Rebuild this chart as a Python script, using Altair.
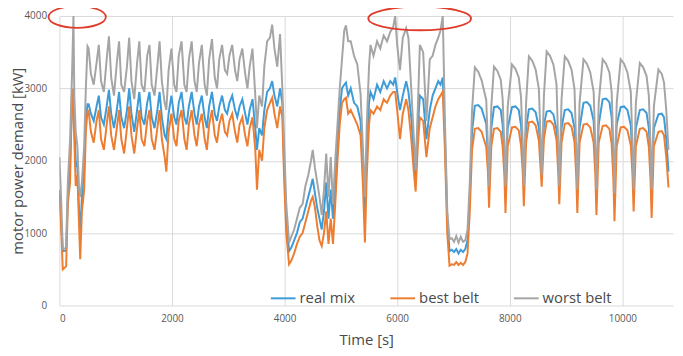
import altair as alt
import pandas as pd

# ---- data (time in s, power in kW) ----
t_a = [0, 30, 60, 120, 150, 190, 225, 250, 265, 290, 320, 350, 370, 400, 440, 470, 500]
real_a = [1600, 1200, 750, 760, 1500, 2000, 2800, 3000, 2500, 2000, 1900, 1300, 1000, 1500, 1900, 2600, 2780]
best_a = [1550, 1100, 500, 540, 1400, 1700, 2990, 2700, 2300, 1650, 1800, 1100, 640, 1300, 1600, 2400, 2690]
worst_a = [2050, 1500, 780, 800, 1700, 2300, 3200, 4000, 2900, 2400, 2200, 1600, 1500, 1700, 2200, 3000, 3580]

t_b = [520, 560, 610, 660, 700, 740, 790, 840, 880, 920, 970, 1020, 1060, 1100, 1150, 1200, 1240, 1280,
       1330, 1380, 1420, 1460, 1510, 1560, 1600, 1640, 1690, 1740, 1780, 1820, 1870, 1900, 1940, 1990,
       2040, 2080, 2120, 2170, 2220, 2260, 2300, 2350, 2400, 2440, 2480, 2530, 2580, 2620, 2660, 2710,
       2760, 2800, 2840, 2890, 2940, 2980, 3020, 3070, 3120, 3160, 3200, 3250, 3300, 3340, 3380, 3430,
       3480, 3510, 3550, 3600, 3640, 3690, 3740, 3780, 3820, 3870, 3920]
worst_b = [3550, 3200, 3050, 3350, 3600, 3100, 2950, 3400, 3720, 3150, 2900, 3350, 3650, 3050, 2950, 3300,
           3700, 3100, 2850, 3350, 3650, 3050, 2950, 3450, 3600, 3050, 2900, 3300, 3650, 3100, 2800, 2700,
           3250, 3550, 3050, 2950, 3450, 3650, 3050, 2950, 3400, 3650, 3100, 2950, 3350, 3600, 3050, 2900,
           3400, 3680, 3150, 3000, 3400, 3600, 3250, 3200, 3450, 3600, 3250, 3100, 3400, 3550, 3200, 3000,
           3300, 3550, 2900, 2450, 2900, 2750, 3300, 3650, 3700, 3880, 3550, 3300, 3750]
real_b = [2780, 2650, 2550, 2750, 2900, 2600, 2500, 2750, 2980, 2650, 2450, 2700, 2950, 2600, 2450, 2700,
          3000, 2650, 2400, 2700, 2950, 2600, 2500, 2800, 2950, 2600, 2450, 2700, 2950, 2600, 2350, 2300,
          2650, 2900, 2600, 2500, 2800, 2950, 2600, 2500, 2750, 2950, 2650, 2500, 2750, 2900, 2600, 2450,
          2750, 2950, 2650, 2550, 2750, 2900, 2700, 2650, 2800, 2900, 2700, 2600, 2750, 2850, 2650, 2500,
          2700, 2850, 2450, 2150, 2450, 2350, 2700, 2950, 3000, 3100, 2900, 2750, 3000]
best_b = [2690, 2400, 2250, 2550, 2700, 2300, 2150, 2500, 2750, 2350, 2150, 2450, 2700, 2300, 2100, 2450,
          2750, 2350, 2100, 2450, 2700, 2300, 2200, 2550, 2700, 2300, 2150, 2450, 2700, 2300, 2050, 1850,
          2400, 2650, 2300, 2200, 2550, 2700, 2300, 2150, 2500, 2700, 2350, 2200, 2500, 2650, 2300, 2150,
          2500, 2700, 2350, 2250, 2500, 2650, 2400, 2350, 2550, 2650, 2400, 2250, 2500, 2600, 2350, 2200,
          2450, 2600, 2150, 1600, 2150, 2000, 2450, 2700, 2800, 2870, 2650, 2450, 2750]

t_c = [3960, 3990, 4030, 4080, 4120, 4170, 4220, 4270, 4320, 4370, 4420, 4470, 4500, 4540, 4580, 4620,
       4660, 4700, 4740, 4780, 4820, 4860, 4900, 4940, 4980, 5020, 5060]
worst_c = [3000, 2300, 1400, 870, 950, 1050, 1200, 1350, 1400, 1650, 1800, 2000, 2150, 1900, 1700, 1500,
           1250, 1600, 2100, 1500, 2050, 1400, 2000, 2500, 3000, 3400, 3800]
real_c = [2800, 2000, 1200, 750, 800, 900, 1000, 1150, 1200, 1350, 1500, 1650, 1750, 1550, 1350, 1200,
          1050, 1300, 1700, 1200, 1600, 1200, 1700, 2200, 2700, 3000, 3050]
best_c = [2600, 1800, 1000, 570, 620, 720, 850, 950, 1000, 1150, 1300, 1450, 1500, 1350, 1100, 900,
          820, 1000, 1300, 850, 1200, 850, 1400, 2000, 2500, 2800, 2850]

t_d = [5090, 5130, 5175, 5234, 5292, 5350, 5390, 5427, 5460, 5500, 5526, 5580, 5643, 5700, 5760, 5820,
       5877, 5930, 5965, 6000, 6050, 6100, 6160, 6200, 6250, 6290, 6328, 6370, 6403, 6462, 6520, 6579,
       6630, 6680, 6730, 6770, 6810, 6850, 6890, 6930]
worst_d = [3870, 3650, 3650, 3450, 3330, 2920, 2200, 1500, 2500, 3300, 3600, 3450, 3650, 3550, 3730, 3650,
           3780, 3850, 4000, 3600, 3250, 3700, 3830, 3700, 3000, 2400, 1870, 2800, 3600, 3500, 2550, 3400,
           3450, 3600, 3700, 3800, 4000, 2500, 1300, 915]
real_d = [3080, 2900, 3000, 2800, 2750, 2550, 2000, 1300, 2100, 2800, 2950, 2850, 3050, 2950, 3100, 3000,
          3100, 3050, 3150, 2950, 2700, 2900, 3100, 2950, 2600, 2150, 1750, 2500, 2900, 2850, 2300, 2700,
          2900, 3000, 3100, 3050, 3150, 2300, 1200, 750]
best_d = [2870, 2650, 2700, 2600, 2500, 2350, 1700, 870, 1800, 2500, 2700, 2650, 2750, 2700, 2850, 2800,
          2900, 2950, 2950, 2700, 2300, 2650, 2850, 2700, 2300, 1900, 1574, 2250, 2600, 2550, 2050, 2450,
          2600, 2750, 2850, 2900, 2960, 2100, 1000, 550]

t_e = [6970, 7010, 7050, 7090, 7130, 7170, 7210, 7250, 7290, 7330]
worst_e = [930, 880, 960, 870, 950, 880, 900, 1050, 1700, 2700]
real_e = [770, 740, 780, 720, 770, 740, 780, 900, 1500, 2400]
best_e = [570, 560, 600, 560, 590, 560, 600, 720, 1300, 2150]

t_f = [7380, 7440, 7500, 7582, 7612, 7632, 7672,
       7720, 7780, 7840, 7874, 7904, 7924, 7964,
       8040, 8100, 8160, 8200, 8230, 8250, 8290,
       8340, 8400, 8460, 8517, 8547, 8567, 8607,
       8655, 8715, 8775, 8830, 8860, 8880, 8920,
       8977, 9037, 9097, 9150, 9180, 9200, 9240,
       9310, 9370, 9430, 9490, 9520, 9540, 9580,
       9650, 9710, 9770, 9810, 9840, 9860, 9900,
       9970, 10030, 10090, 10150, 10180, 10200, 10240,
       10310, 10370, 10430, 10470, 10500, 10520, 10560,
       10640, 10700, 10740, 10780, 10820]
worst_f = [3290, 3230, 3110, 2840, 2200, 1650, 2750,
           3300, 3240, 3120, 2850, 2200, 1650, 2750,
           3330, 3270, 3150, 2880, 2250, 1650, 2800,
           3440, 3380, 3260, 2990, 2300, 1800, 2900,
           3510, 3450, 3330, 3060, 2250, 1650, 2850,
           3440, 3380, 3260, 2990, 2200, 1600, 2800,
           3400, 3340, 3220, 2950, 2200, 1600, 2800,
           3400, 3340, 3220, 2950, 2200, 1550, 2800,
           3400, 3340, 3220, 2950, 2200, 1600, 2800,
           3350, 3290, 3170, 2900, 2200, 1600, 2750,
           3260, 3200, 3080, 2700, 2150]
real_f = [2760, 2770, 2720, 2510, 2050, 1780, 2450,
          2740, 2750, 2700, 2490, 2050, 1780, 2450,
          2740, 2750, 2700, 2490, 2050, 1800, 2450,
          2710, 2720, 2670, 2460, 2100, 1900, 2500,
          2680, 2690, 2640, 2430, 2050, 1800, 2450,
          2700, 2710, 2660, 2450, 2000, 1750, 2450,
          2800, 2810, 2760, 2550, 2050, 1750, 2500,
          2850, 2860, 2810, 2600, 2050, 1700, 2500,
          2740, 2750, 2700, 2490, 2000, 1750, 2450,
          2700, 2710, 2660, 2450, 2000, 1700, 2450,
          2640, 2650, 2600, 2300, 1850]
best_f = [2440, 2450, 2400, 2190, 1850, 1350, 2200,
          2440, 2450, 2400, 2190, 1800, 1280, 2200,
          2460, 2470, 2420, 2210, 1850, 1370, 2250,
          2530, 2540, 2490, 2280, 1900, 1640, 2300,
          2540, 2550, 2500, 2290, 1850, 1400, 2250,
          2510, 2520, 2470, 2260, 1800, 1280, 2250,
          2500, 2510, 2460, 2250, 1800, 1250, 2250,
          2480, 2490, 2440, 2230, 1750, 1165, 2200,
          2460, 2470, 2420, 2210, 1800, 1300, 2200,
          2440, 2450, 2400, 2190, 1750, 1210, 2200,
          2400, 2410, 2350, 2050, 1630]

series_names = ["real mix", "best belt", "worst belt"]
series_colors = ["#3d9bd8", "#ed7d31", "#a5a5a5"]

x_ticks = [0, 2000, 4000, 6000, 8000, 10000]
y_ticks = [0, 500, 1000, 1500, 2000, 2500, 3000, 3500, 4000]

# red ellipse annotations (centre in data units)
ell1_t, ell1_v = [316], [3986]
ell2_t, ell2_v = [6400], [3966]

time_all = t_a + t_b + t_c + t_d + t_e + t_f
real_all = real_a + real_b + real_c + real_d + real_e + real_f
best_all = best_a + best_b + best_c + best_d + best_e + best_f
worst_all = worst_a + worst_b + worst_c + worst_d + worst_e + worst_f

df = pd.DataFrame({
    "t": time_all * 3,
    "v": real_all + best_all + worst_all,
    "series": ["real mix"] * len(time_all) + ["best belt"] * len(time_all) + ["worst belt"] * len(time_all),
})

FONT = "Open Sans"
TXT = "#4a4a4a"

xenc = alt.X("t:Q", scale=alt.Scale(domain=[0, 10900], nice=False),
             axis=alt.Axis(values=x_ticks, title="Time [s]", format="d", grid=True,
                           labelPadding=8, titlePadding=9))
yenc = alt.Y("v:Q", scale=alt.Scale(domain=[0, 4000], nice=False),
             axis=alt.Axis(values=y_ticks, title="motor power demand [kW]", format="d", grid=True,
                           labelPadding=13, titlePadding=-2))
cenc = alt.Color("series:N",
                 scale=alt.Scale(domain=series_names, range=series_colors),
                 legend=alt.Legend(orient="none", legendX=213, legendY=272, direction="horizontal",
                                   title=None, symbolType="stroke", symbolSize=625,
                                   symbolStrokeWidth=2, labelFont=FONT, labelFontSize=15,
                                   labelColor=TXT, columnPadding=31, padding=0, labelOffset=3))

base = alt.Chart(df)
layers = []
for name in series_names:
    layers.append(
        base.transform_filter(alt.datum.series == name)
        .mark_line(strokeWidth=2, clip=True)
        .encode(x=xenc, y=yenc, color=cenc)
    )

e1 = alt.Chart(pd.DataFrame({"t": ell1_t, "v": ell1_v})).mark_point(
    shape="M-1,0A1,0.38 0 1,0 1,0A1,0.38 0 1,0 -1,0Z", size=3364, filled=False,
    stroke="#e03c2c", strokeWidth=1.8, opacity=1
).encode(x="t:Q", y="v:Q")
e2 = alt.Chart(pd.DataFrame({"t": ell2_t, "v": ell2_v})).mark_point(
    shape="M-1,0A1,0.23 0 1,0 1,0A1,0.23 0 1,0 -1,0Z", size=10816, filled=False,
    stroke="#e03c2c", strokeWidth=1.8, opacity=1
).encode(x="t:Q", y="v:Q")

chart = alt.layer(*layers, e1, e2).properties(
    width=621, height=293,
    autosize=alt.AutoSizeParams(type="none"),
    padding={"left": 52, "top": 6, "right": 2, "bottom": 45},
    background="white",
).configure_view(strokeWidth=0).configure_axis(
    domain=False, ticks=False, gridColor="#d9d9d9", gridWidth=1,
    labelFont=FONT, labelFontSize=10, labelColor="#595959",
    titleFont=FONT, titleFontSize=15, titleColor=TXT, titleFontWeight="normal",
)

chart.save("out.html", embed_options={"renderer": "svg", "actions": False})
